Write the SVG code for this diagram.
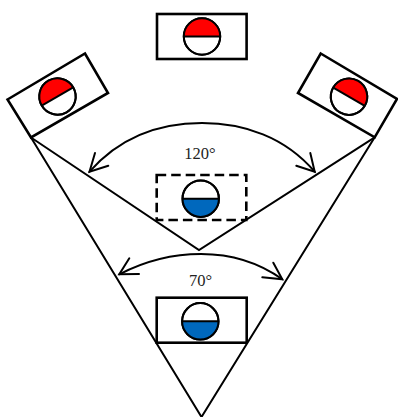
<svg xmlns="http://www.w3.org/2000/svg" width="398" height="417" viewBox="0 0 398 417">
<style>
.box{fill:none;stroke:#000;stroke-width:2.6}
.dash{stroke-dasharray:9.5 5}
.line{fill:none;stroke:#000;stroke-width:2}
.arc{fill:none;stroke:#000;stroke-width:2;stroke-linecap:round;stroke-linejoin:miter}
.ring{fill:#fff;stroke:#000;stroke-width:2}
.red{fill:#f00}
.blue{fill:#0068bd}
.label{font-family:"Liberation Serif",serif;font-size:16.5px;fill:#222;text-anchor:middle}
</style>
<defs>
<g id="redDial">
<circle class="ring" r="18.2"/>
<path class="red" d="M-18.2 0A18.2 18.2 0 0 1 18.2 0Z"/>
<circle r="18.2" fill="none" stroke="#000" stroke-width="2"/>
<path class="line" d="M-18.2 0H18.2"/>
</g>
<g id="blueDial">
<circle class="ring" r="18.2"/>
<path class="blue" d="M-18.2 0A18.2 18.2 0 0 0 18.2 0Z"/>
<circle r="18.2" fill="none" stroke="#000" stroke-width="2"/>
<path class="line" d="M-18.2 0H18.2"/>
</g>
</defs>
<g id="connectors">
<path class="line" d="M31 137.5L199 250L374.7 137.3"/>
<path class="line" d="M31 137.5L201.5 417L374.7 137.3"/>
<path class="arc" d="M89.5 171.7C120 137 160 123 202 123C244 123 285 137 314.7 171.7"/>
<path class="arc" d="M95 153L89.5 171.7L108.3 165.7"/>
<path class="arc" d="M310.3 153L314.7 171.7L296.3 165.7"/>
<path class="arc" d="M119.3 274.3C145 261 172 254 201 254C230 254 258 262 282.3 279.3"/>
<path class="arc" d="M129.3 258.3L119.3 274.3L139 274"/>
<path class="arc" d="M273.3 262.7L282.3 279.3L262.3 277.3"/>
</g>
<g id="top-node">
<rect class="box" x="157" y="14" width="89.6" height="45"/>
<use href="#redDial" x="202" y="36.5"/>
</g>
<g id="left-node">
<path class="box" d="M7.5 99.5L85 53.5L108 93L31 137.5Z"/>
<use href="#redDial" transform="translate(57.5 96.5) rotate(-30)"/>
</g>
<g id="right-node">
<path class="box" d="M320.7 53.5L397 99L374.7 137.3L298 93Z"/>
<use href="#redDial" transform="translate(349 96.7) rotate(30)"/>
</g>
<g id="center-node">
<rect class="box dash" x="156.7" y="175" width="89.6" height="45"/>
<use href="#blueDial" x="200.7" y="198.7"/>
</g>
<g id="bottom-node">
<rect class="box" x="156.7" y="297.7" width="90" height="45"/>
<use href="#blueDial" x="200.3" y="321.3"/>
</g>
<text class="label" x="200" y="159">120°</text>
<text class="label" x="200.5" y="286">70°</text>
</svg>
